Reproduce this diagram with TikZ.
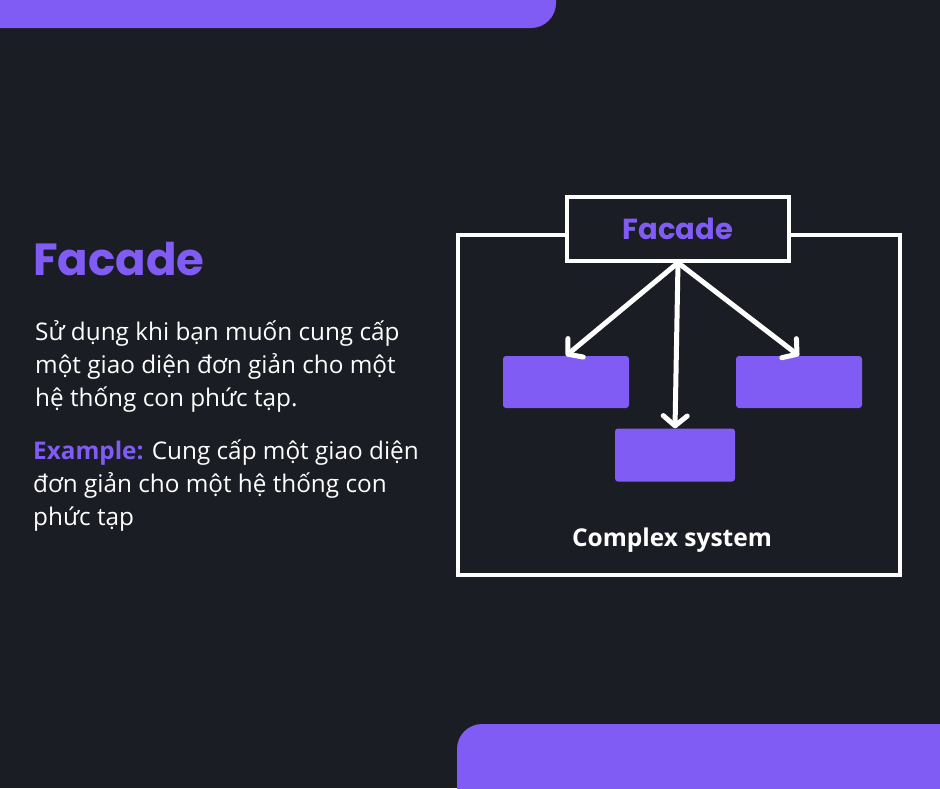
\documentclass[tikz,border=0pt]{standalone}
\usepackage{fontspec}
\setmainfont{Open Sans}
\newfontfamily\titlefont{Poppins}
\usetikzlibrary{arrows.meta}

\definecolor{bgdark}{HTML}{1A1D23}
\definecolor{facadepurple}{HTML}{805CF5}

\tikzset{
  partbox/.style={fill=facadepurple,rounded corners=3pt,inner sep=0pt},
  facadearrow/.style={draw=white,line width=5pt,line cap=round,line join=round,
    -{Straight Barb[length=10pt,width=24pt,line cap=round,line join=round]}},
  bodytext/.style={text=white,anchor=base west,align=left,inner sep=0pt,
    font=\fontsize{24.3}{33}\selectfont}
}

\begin{document}
\begin{tikzpicture}[x=1pt,y=-1pt]
\useasboundingbox (0,0) rectangle (940,788);
\clip (0,0) rectangle (940,788);
\fill [bgdark] (0,0) rectangle (940,788);

\fill [facadepurple,rounded corners=25pt] (-40,-40) rectangle (556,28);
\fill [facadepurple,rounded corners=25pt] (457,724) rectangle (980,830);

\node [draw=white,line width=3.5pt,minimum width=442pt,minimum height=340pt,inner sep=0pt] at (679,405) (system) {};
\node [draw=white,fill=bgdark,line width=3.5pt,minimum width=222pt,minimum height=64pt,inner sep=0pt,
  text=facadepurple,font=\titlefont\fontsize{29}{29}\selectfont\bfseries] at (678,229) (facade) {Facade};

\node [partbox,minimum width=126pt,minimum height=52pt] at (566,382) (leftpart) {};
\node [partbox,minimum width=126pt,minimum height=52pt] at (799,382) (rightpart) {};
\node [partbox,minimum width=120pt,minimum height=53pt] at (675,455) (midpart) {};

\draw [facadearrow] (facade.south) -- (leftpart.north);
\draw [facadearrow] (facade.south) -- (midpart.north);
\draw [facadearrow] (facade.south) -- (rightpart.north);

\node [text=white,font=\fontsize{24.5}{24.5}\selectfont\bfseries,anchor=base,inner sep=0pt] at (672,546) (syslabel) {Complex system};

\node [text=facadepurple,font=\titlefont\fontsize{45}{45}\selectfont\bfseries,anchor=base west,inner sep=0pt] at (33,275) (title) {Facade};

% base anchor sits on the last line
\node [bodytext] at (35,406) (desc) {Sử dụng khi bạn muốn cung cấp\\một giao diện đơn giản cho một\\hệ thống con phức tạp.};
\node [bodytext] at (33,525) (example) {\textcolor{facadepurple}{\bfseries Example:} Cung cấp một giao diện\\đơn giản cho một hệ thống con\\phức tạp};
\end{tikzpicture}
\end{document}
